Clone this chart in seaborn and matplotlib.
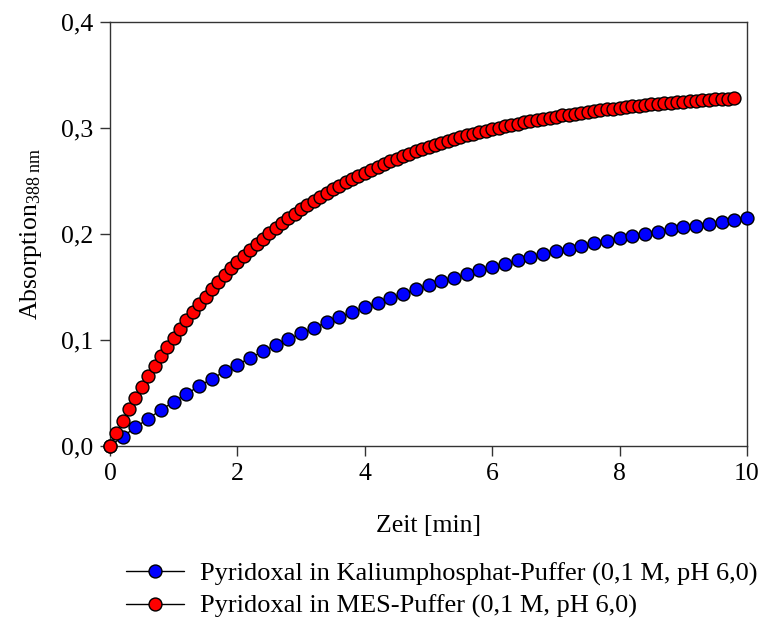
import numpy as np
import pandas as pd
import matplotlib
matplotlib.use("Agg")
import matplotlib.pyplot as plt
import seaborn as sns
from matplotlib.ticker import FuncFormatter

# ---- data ----
time_kp = [round(0.2 * i, 1) for i in range(51)]
absorb_kp = [0.0000, 0.0089, 0.0176, 0.0259, 0.0340, 0.0417, 0.0492, 0.0565, 0.0635, 0.0703,
             0.0768, 0.0831, 0.0892, 0.0950, 0.1007, 0.1062, 0.1115, 0.1166, 0.1215, 0.1263,
             0.1309, 0.1353, 0.1396, 0.1438, 0.1478, 0.1516, 0.1553, 0.1589, 0.1624, 0.1658,
             0.1690, 0.1721, 0.1752, 0.1781, 0.1809, 0.1836, 0.1863, 0.1888, 0.1912, 0.1936,
             0.1959, 0.1981, 0.2002, 0.2023, 0.2043, 0.2062, 0.2080, 0.2098, 0.2115, 0.2132,
             0.2148]

time_mes = [round(0.1 * i, 1) for i in range(99)]
absorb_mes = [0.0000, 0.0120, 0.0235, 0.0346, 0.0453, 0.0557, 0.0657, 0.0753, 0.0846, 0.0935,
              0.1022, 0.1105, 0.1186, 0.1263, 0.1338, 0.1410, 0.1480, 0.1547, 0.1612, 0.1675,
              0.1735, 0.1793, 0.1849, 0.1903, 0.1955, 0.2006, 0.2054, 0.2101, 0.2147, 0.2190,
              0.2232, 0.2273, 0.2312, 0.2350, 0.2386, 0.2421, 0.2455, 0.2488, 0.2519, 0.2550,
              0.2579, 0.2608, 0.2635, 0.2661, 0.2687, 0.2711, 0.2735, 0.2758, 0.2780, 0.2801,
              0.2821, 0.2841, 0.2860, 0.2878, 0.2896, 0.2913, 0.2930, 0.2946, 0.2961, 0.2976,
              0.2990, 0.3004, 0.3017, 0.3030, 0.3042, 0.3054, 0.3066, 0.3077, 0.3088, 0.3098,
              0.3108, 0.3118, 0.3127, 0.3136, 0.3145, 0.3153, 0.3161, 0.3169, 0.3176, 0.3183,
              0.3190, 0.3197, 0.3203, 0.3210, 0.3216, 0.3222, 0.3227, 0.3233, 0.3238, 0.3243,
              0.3248, 0.3252, 0.3257, 0.3261, 0.3265, 0.3269, 0.3273, 0.3277, 0.3281]

label_kp = "Pyridoxal in Kaliumphosphat-Puffer (0,1 M, pH 6,0)"
label_mes = "Pyridoxal in MES-Puffer (0,1 M, pH 6,0)"
x_ticks = [0, 2, 4, 6, 8, 10]
y_ticks = [0.0, 0.1, 0.2, 0.3, 0.4]

df_kp = pd.DataFrame({"Zeit": time_kp, "Abs": absorb_kp})
df_mes = pd.DataFrame({"Zeit": time_mes, "Abs": absorb_mes})

# ---- style ----
sns.set_style("white")
plt.rcParams["font.family"] = ["Liberation Serif", "DejaVu Serif"]
plt.rcParams["mathtext.fontset"] = "custom"
plt.rcParams["mathtext.rm"] = "Liberation Serif"
plt.rcParams["mathtext.it"] = "Liberation Serif:italic"
plt.rcParams["text.color"] = "black"
plt.rcParams["axes.labelcolor"] = "black"

FS = 18.5

fig = plt.figure(figsize=(7.62, 6.19), dpi=100)
ax = fig.add_axes([110 / 762, 1 - 446 / 619, (747 - 110) / 762, (446 - 22) / 619])

sns.lineplot(data=df_kp, x="Zeit", y="Abs", ax=ax, color="black", linewidth=1.0,
             marker="o", markersize=9.3, markerfacecolor="#0000ff",
             markeredgecolor="black", markeredgewidth=1.0, label=label_kp,
             zorder=3, clip_on=False)
sns.lineplot(data=df_mes, x="Zeit", y="Abs", ax=ax, color="black", linewidth=1.0,
             marker="o", markersize=9.3, markerfacecolor="#ff0000",
             markeredgecolor="black", markeredgewidth=1.0, label=label_mes,
             zorder=4, clip_on=False)

ax.set_xlim(0, 10)
ax.set_ylim(0, 0.4)
ax.set_xticks(x_ticks)
ax.set_yticks(y_ticks)
ax.xaxis.set_major_formatter(FuncFormatter(lambda v, p: f"{v:.0f}"))
ax.yaxis.set_major_formatter(FuncFormatter(lambda v, p: f"{v:.1f}".replace(".", ",")))
ax.tick_params(axis="both", which="major", direction="out", length=7, width=1,
               color="#333333", labelsize=FS, pad=5, bottom=True, left=True,
               labelcolor="black")
for s in ax.spines.values():
    s.set_color("#333333")
    s.set_linewidth(1.0)

ax.set_xlabel("Zeit [min]", fontsize=FS, labelpad=22)
ax.set_ylabel(r"Absorption$_{\mathrm{388\ nm}}$", fontsize=FS, labelpad=12)

ax.get_legend().remove()
handles, labels = ax.get_legend_handles_labels()
fig.legend(handles, labels, loc="upper left", bbox_to_anchor=(126 / 762, 1 - 562 / 619),
           frameon=False, fontsize=19, handlelength=2.2, handletextpad=0.6,
           labelspacing=0.33, borderaxespad=0, borderpad=0, labelcolor="black")

fig.savefig("out.png", dpi=100)
